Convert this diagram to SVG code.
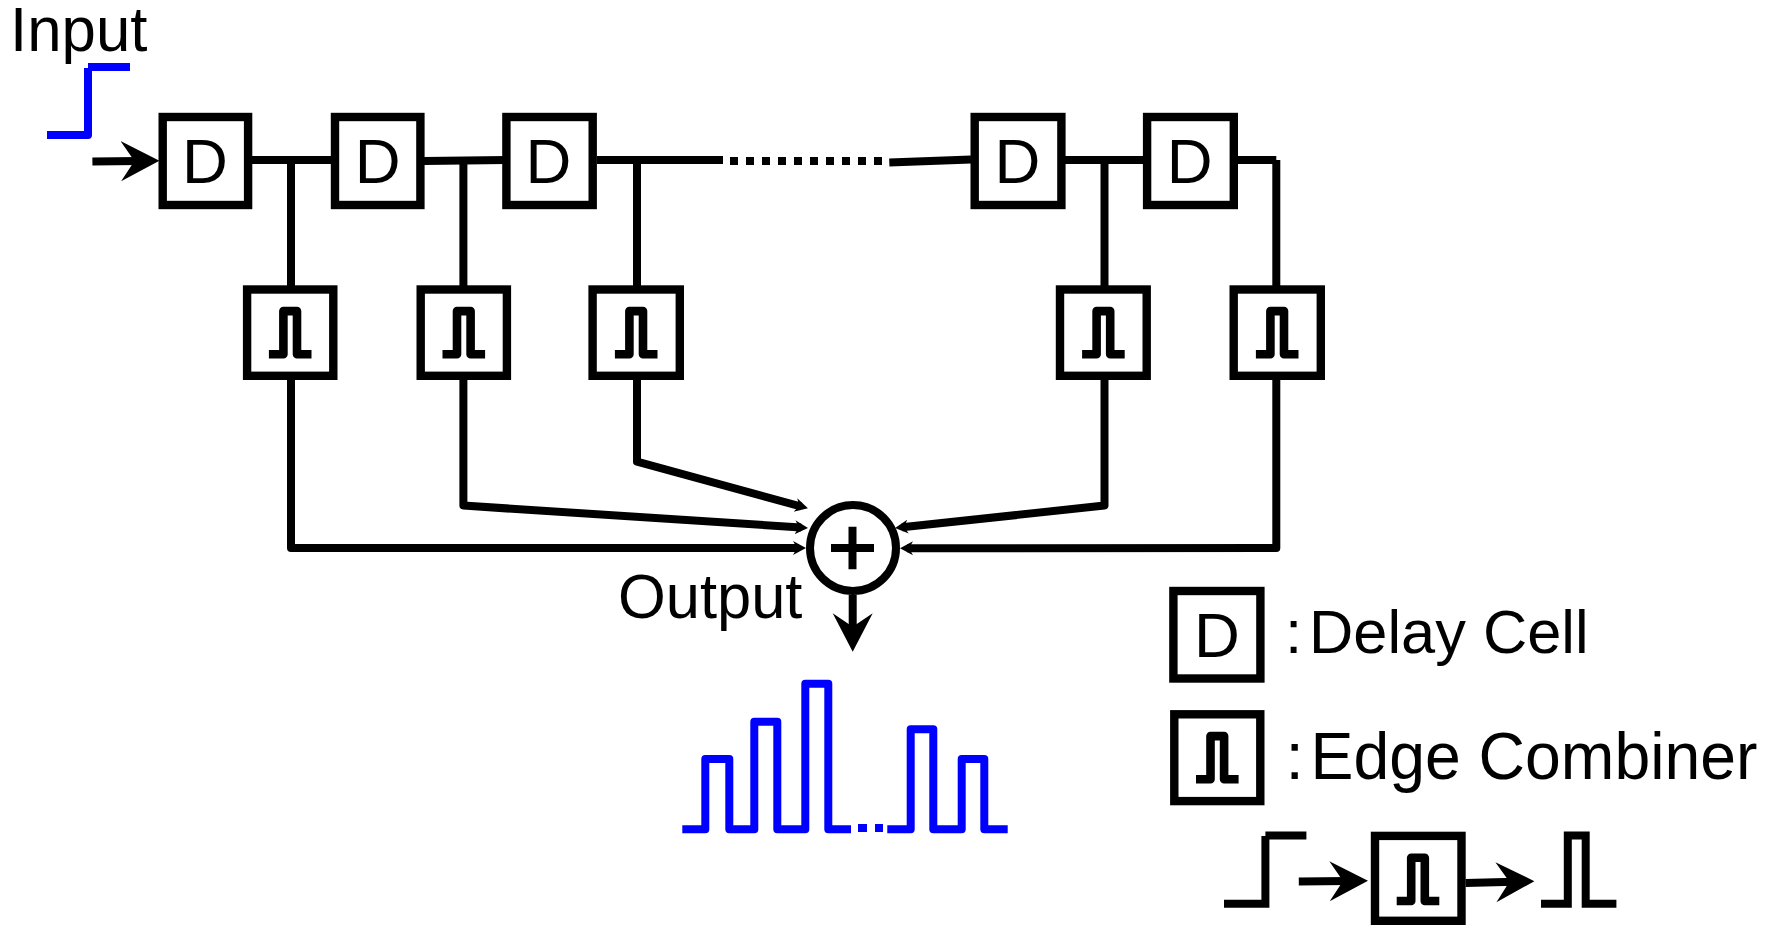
<svg xmlns="http://www.w3.org/2000/svg" width="1774" height="925" viewBox="0 0 1774 925">
<style>
text{font-family:"Liberation Sans",Arial,sans-serif;font-size:63.5px;fill:#000}
.box{fill:#fff;stroke:#000;stroke-width:8.4}
.w{fill:none;stroke:#000;stroke-width:8}
.sig{fill:none;stroke:#00f;stroke-width:8;stroke-linejoin:round}
.pulse{fill:none;stroke:#000;stroke-width:8.6;stroke-linejoin:round}
.k{fill:none;stroke:#000;stroke-width:8}
.m{text-anchor:middle}
</style>
<defs>
<marker id="small" markerUnits="userSpaceOnUse" viewBox="0 -8 14 16" markerWidth="14" markerHeight="16" refX="6" refY="0" orient="auto"><path d="M0,-7 L13,0 L0,7 L4,0Z" fill="#000"/></marker>
<marker id="big" markerUnits="userSpaceOnUse" viewBox="0 -21 40 42" markerWidth="40" markerHeight="42" refX="18.5" refY="0" orient="auto"><path d="M0,-20 L38.5,0 L0,20 L13.5,0Z" fill="#000"/></marker>
<path id="pg" class="pulse" d="M-21.3,0 H-6.8 V-43.2 H6.8 V0 H21.3"/>
</defs>

<g id="connectors">
<path class="w" d="M252,160 H331"/>
<path class="w" d="M424,161 L506,160"/>
<path class="w" d="M597,160 H723"/>
<path class="w" d="M730,161 H882.3" stroke-width="8.6" stroke-dasharray="8 8"/>
<path class="w" d="M889.3,162.5 L971,159.5"/>
<path class="w" d="M1065,160 H1143"/>
<path class="w" d="M1238,160 H1276.3"/>
<path class="w" d="M291,160 V286"/>
<path class="w" d="M463.4,160 V286"/>
<path class="w" d="M637,160 V286"/>
<path class="w" d="M1104.5,160 V286"/>
<path class="w" d="M1276.3,160 V286"/>
<path class="w" d="M92.4,161.5 L139.4,161" marker-end="url(#big)"/>
<path class="w" d="M291,380 V548 H799" stroke-linejoin="round" marker-end="url(#small)"/>
<path class="w" d="M463.4,380 V505.6 L801,527.5" stroke-linejoin="round" marker-end="url(#small)"/>
<path class="w" d="M637,380 V461.7 L801.2,506.5" stroke-linejoin="round" marker-end="url(#small)"/>
<path class="w" d="M1104.5,380 V505.6 L902,527.3" stroke-linejoin="round" marker-end="url(#small)"/>
<path class="w" d="M1276.3,380 V548 L907,548.3" stroke-linejoin="round" marker-end="url(#small)"/>
<path class="w" d="M852.7,595 V631.7" marker-end="url(#big)"/>
</g>

<g id="input-label"><text x="10" y="51" textLength="137.4" lengthAdjust="spacingAndGlyphs">Input</text></g>
<path id="input-signal" class="sig" stroke-linejoin="miter" d="M47,135 H88 V68 M88,67 H130"/>

<g id="d1"><rect class="box" x="162.7" y="117" width="85.4" height="88"/><text class="m" x="205" y="182.7">D</text></g>
<g id="d2"><rect class="box" x="335" y="117" width="85.4" height="88"/><text class="m" x="377.6" y="182.7">D</text></g>
<g id="d3"><rect class="box" x="506.4" y="117" width="86.3" height="88"/><text class="m" x="548.5" y="182.7">D</text></g>
<g id="d4"><rect class="box" x="974.7" y="117" width="86.7" height="88"/><text class="m" x="1017.5" y="182.7">D</text></g>
<g id="d5"><rect class="box" x="1147.1" y="117" width="86.7" height="88"/><text class="m" x="1189.6" y="182.7">D</text></g>

<g id="e1"><rect class="box" x="247.1" y="289.5" width="86.2" height="86.3"/><use href="#pg" x="290.2" y="354.3"/></g>
<g id="e2"><rect class="box" x="420.7" y="289.5" width="86.2" height="86.3"/><use href="#pg" x="463.8" y="354.3"/></g>
<g id="e3"><rect class="box" x="592.6" y="289.5" width="87.2" height="86.3"/><use href="#pg" x="636.2" y="354.3"/></g>
<g id="e4"><rect class="box" x="1060" y="289.5" width="86.7" height="86.3"/><use href="#pg" x="1103.4" y="354.3"/></g>
<g id="e5"><rect class="box" x="1233.7" y="289.5" width="87.1" height="86.3"/><use href="#pg" x="1277.2" y="354.3"/></g>

<g id="sum">
<circle cx="853" cy="548" r="43" fill="#fff" stroke="#000" stroke-width="8"/>
<path d="M831,548 H874 M852.5,526.7 V569.3" fill="none" stroke="#000" stroke-width="8"/>
</g>
<g id="output-label"><text x="618" y="618.3" textLength="184.4" lengthAdjust="spacingAndGlyphs">Output</text></g>
<path id="output-signal" class="sig" d="M682.3,829.3 H705.3 V759 H729.3 V829.3 H754.3 V721.7 H777.3 V829.3 H805.3 V683.7 H828.3 V829.3 H851 M858,828 H867 M875,828 H883 M887.3,829.3 H910.7 V729.3 H933.3 V829.3 H961.7 V759 H984.3 V829.3 H1007.7"/>

<g id="legend-delay">
<rect class="box" x="1173.4" y="591" width="87" height="87.5" stroke-width="9"/>
<text class="m" x="1217" y="657.3">D</text>
<text y="653.3" style="font-size:62px"><tspan x="1285">:</tspan><tspan x="1309" textLength="279.6" lengthAdjust="spacingAndGlyphs">Delay Cell</tspan></text>
</g>
<g id="legend-edge">
<rect class="box" x="1174.3" y="714.3" width="86" height="86.8"/>
<use href="#pg" x="1217.3" y="779.3"/>
<text y="779" style="font-size:66px"><tspan x="1285.5">:</tspan><tspan x="1310.5" textLength="447" lengthAdjust="spacingAndGlyphs">Edge Combiner</tspan></text>
</g>
<g id="legend-example">
<path class="k" d="M1224,903.7 H1265.4 V836 M1265.4,835.5 H1306.4"/>
<path class="k" d="M1298.8,881.5 L1348,881" marker-end="url(#big)"/>
<rect class="box" x="1375" y="835.9" width="86.5" height="84.9"/>
<use href="#pg" x="1418" y="901"/>
<path class="k" d="M1465.6,883 L1514.4,881.7" marker-end="url(#big)"/>
<path class="k" d="M1541,903.7 H1567.8 V835.5 H1585.7 V903.7 H1616.4"/>
</g>
</svg>
